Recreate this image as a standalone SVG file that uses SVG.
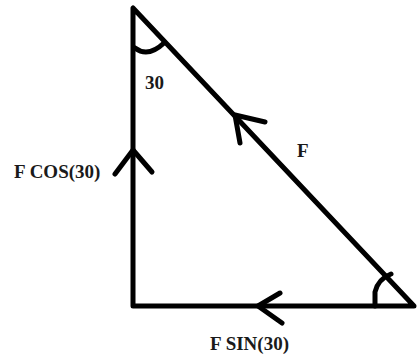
<svg xmlns="http://www.w3.org/2000/svg" width="417" height="356" viewBox="0 0 417 356">
<style>
.ln{fill:none;stroke:#000;stroke-width:5;stroke-linecap:round;stroke-linejoin:round}
.lb{font-family:"Liberation Serif",serif;font-weight:bold;font-size:19px;fill:#1a1a1a}
</style>
<rect width="417" height="356" fill="#fff"/>
<g id="connectors">
<path class="ln" d="M133,8 L133,306 L414,306 Z"/>
<path class="ln" d="M115,174 L133,150 L152,172"/>
<path class="ln" d="M280,293 L258,306 L282,323"/>
<path class="ln" d="M265,122 L235,115 L240,143"/>
<path class="ln" d="M135,48 Q148,58 164,43"/>
<path class="ln" d="M375,306 L375,292 Q378,279 391,274"/>
</g>
<g id="label-30"><text class="lb" x="145" y="89">30</text></g>
<g id="label-fcos"><text class="lb" x="14" y="178">F COS(30)</text></g>
<g id="label-fsin"><text class="lb" x="210" y="350">F SIN(30)</text></g>
<g id="label-f"><text class="lb" x="297" y="157">F</text></g>
</svg>
